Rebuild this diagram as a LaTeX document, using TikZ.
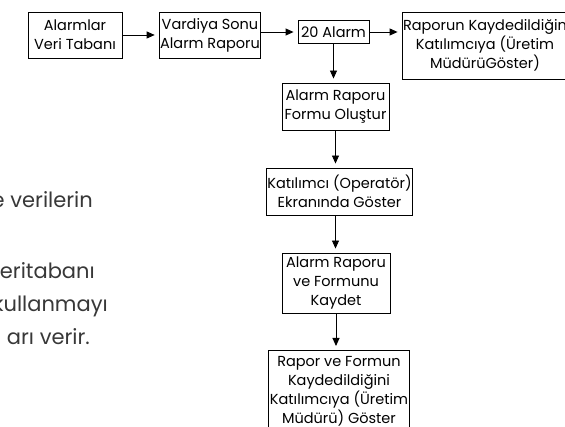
\documentclass[tikz,border=0pt]{standalone}
\usepackage{fontspec}
\setmainfont{Poppins}
\usetikzlibrary{arrows.meta}
\begin{document}
\begin{tikzpicture}[x=1pt,y=-1pt,
  box/.style={draw=black, line width=0.9pt, align=center, inner sep=1pt,
    font=\fontsize{14.5}{19}\selectfont, text=black},
  arr/.style={-{Triangle[length=8pt,width=7pt]}, line width=0.9pt, shorten >=4pt},
  side/.style={anchor=base east, inner sep=0pt, font=\fontsize{21}{28}\selectfont, text=black!78}]
\useasboundingbox (0,0) rectangle (565,427);
\clip (0,0) rectangle (565,427);
% left page text (cut off)
\node[side] (t1) at (93,208) {e verilerin};
\node[side] (t2) at (95,279) {eritabanı};
\node[side] (t3) at (108,312) {kullanmayı};
\node[side] (t4) at (90,345) {arı verir.};
% boxes
\node[box, minimum width=94pt, minimum height=46pt] (b1) at (75,35) {Alarmlar\\Veri Tabanı};
\node[box, minimum width=98pt, minimum height=46pt] (b2) at (210,35) {Vardiya Sonu\\Alarm Raporu};
\node[box, minimum width=71pt, minimum height=23pt] (b3) at (333.5,32) {20 Alarm};
\node[box, minimum width=156pt, minimum height=67pt] (b4) at (485,45.5) {Raporun Kaydedildiğin\\Katılımcıya (Üretim\\MüdürüGöster)};
\node[box, minimum width=107pt, minimum height=47pt] (b5) at (335.5,106.5) {Alarm Raporu\\Formu Oluştur};
\node[box, minimum width=143pt, minimum height=47pt] (b6) at (339.5,191.5) {Katılımcı (Operatör)\\Ekranında Göster};
\node[box, minimum width=108pt, minimum height=60pt] (b7) at (336,283) {Alarm Raporu\\ve Formunu\\Kaydet};
\node[box, anchor=north, minimum width=133pt, minimum height=82pt] (b8) at (339,350) {Rapor ve Formun\\Kaydedildiğini\\Katılımcıya (Üretim\\Müdürü) Göster};
\draw[line width=0.9pt] (b8.south west) -- ++(0,20) (b8.south east) -- ++(0,20);
% connectors
\draw[arr] (b1.east) -- (b1.east -| b2.west);
\draw[arr] (b2.east |- b3.east) -- (b3.west);
\draw[arr] (b3.east) -- (b3.east -| b4.west);
\draw[arr] (b3.south) -- (b3.south |- b5.north);
\draw[arr] (b5.south) -- (b5.south |- b6.north);
\draw[arr] (b6.south -| b5.south) -- (b5.south |- b7.north);
\draw[arr] (b7.south) -- (b7.south |- b8.north);
\end{tikzpicture}
\end{document}
